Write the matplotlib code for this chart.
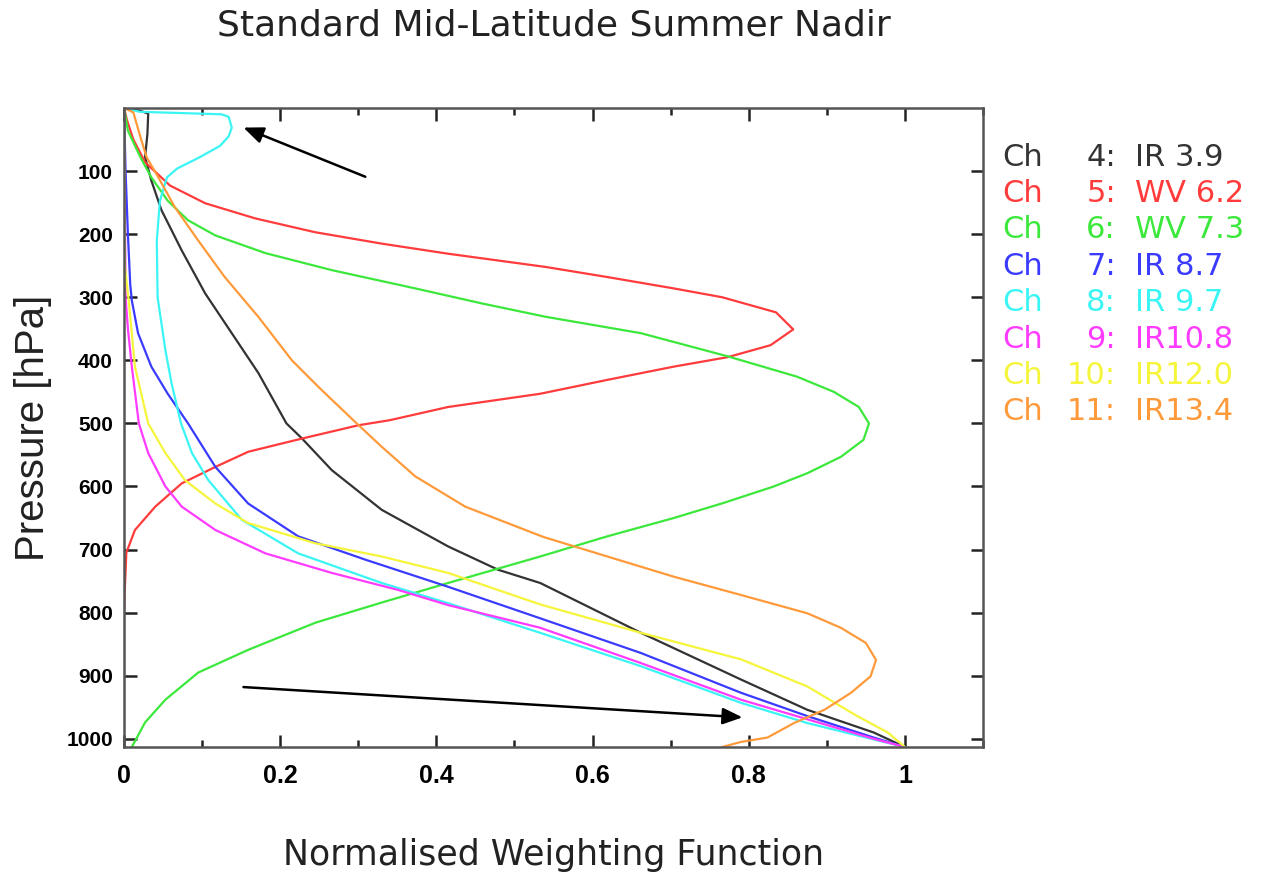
import matplotlib
matplotlib.use("Agg")
import matplotlib.pyplot as plt
from matplotlib.ticker import MultipleLocator

# ---- data (pressure in hPa, normalised weighting function) ----
p_ch4 = [0, 4, 9, 41, 78, 115, 162, 226, 294, 357, 420, 500, 524, 574, 637, 695, 732, 753, 832, 906, 954, 990, 1013]
w_ch4 = [0, 0.020, 0.031, 0.030, 0.027, 0.035, 0.048, 0.074, 0.104, 0.138, 0.172, 0.208, 0.228, 0.266, 0.330, 0.415, 0.479, 0.533, 0.662, 0.790, 0.875, 0.960, 1.0]

p_ch5 = [0, 20, 50, 86, 123, 151, 175, 197, 215, 231, 252, 268, 286, 300, 324, 351, 376, 395, 410, 431, 453, 474, 495, 503, 524, 545, 569, 595, 632, 669, 705, 764, 800, 1013]
w_ch5 = [0, 0.004, 0.012, 0.027, 0.059, 0.104, 0.168, 0.245, 0.330, 0.415, 0.540, 0.619, 0.704, 0.766, 0.835, 0.857, 0.828, 0.773, 0.704, 0.619, 0.533, 0.415, 0.340, 0.300, 0.228, 0.159, 0.117, 0.074, 0.040, 0.014, 0.003, 0.001, 0, 0]

p_ch6 = [0, 36, 78, 110, 147, 178, 202, 230, 257, 286, 310, 331, 357, 394, 426, 450, 474, 500, 526, 553, 579, 600, 626, 650, 679, 711, 753, 784, 816, 859, 895, 938, 974, 1013]
w_ch6 = [0, 0.005, 0.021, 0.035, 0.056, 0.082, 0.117, 0.181, 0.266, 0.373, 0.459, 0.540, 0.662, 0.774, 0.862, 0.909, 0.941, 0.954, 0.947, 0.918, 0.875, 0.832, 0.768, 0.704, 0.619, 0.533, 0.415, 0.330, 0.245, 0.159, 0.095, 0.053, 0.027, 0.010]

p_ch7 = [0, 100, 200, 280, 305, 357, 410, 453, 500, 569, 627, 679, 716, 759, 809, 864, 927, 964, 998, 1013]
w_ch7 = [0, 0.002, 0.005, 0.008, 0.010, 0.018, 0.035, 0.056, 0.082, 0.117, 0.159, 0.223, 0.309, 0.415, 0.533, 0.662, 0.790, 0.875, 0.960, 1.0]

p_ch8 = [0, 6, 10, 14, 31, 45, 60, 78, 96, 110, 147, 210, 300, 384, 437, 500, 547, 590, 653, 706, 753, 785, 832, 885, 943, 975, 1001, 1013]
w_ch8 = [0, 0.020, 0.125, 0.134, 0.138, 0.134, 0.123, 0.097, 0.068, 0.055, 0.046, 0.042, 0.043, 0.053, 0.061, 0.073, 0.087, 0.108, 0.151, 0.223, 0.330, 0.415, 0.533, 0.662, 0.790, 0.875, 0.960, 1.0]

p_ch9 = [0, 300, 350, 410, 500, 547, 600, 632, 669, 706, 737, 764, 788, 824, 880, 938, 969, 1000, 1013]
w_ch9 = [0, 0.002, 0.005, 0.010, 0.019, 0.031, 0.053, 0.074, 0.117, 0.181, 0.266, 0.351, 0.415, 0.533, 0.662, 0.790, 0.875, 0.960, 1.0]

p_ch10 = [0, 250, 305, 410, 500, 547, 590, 627, 658, 690, 711, 737, 787, 832, 874, 917, 964, 990, 1013]
w_ch10 = [0, 0.001, 0.006, 0.014, 0.031, 0.053, 0.078, 0.117, 0.159, 0.245, 0.330, 0.415, 0.533, 0.662, 0.790, 0.875, 0.939, 0.978, 1.0]

p_ch11 = [0, 7, 46, 78, 110, 157, 210, 268, 331, 400, 447, 500, 537, 584, 632, 680, 711, 743, 772, 801, 824, 848, 875, 901, 927, 954, 975, 998, 1005, 1013]
w_ch11 = [0, 0.012, 0.021, 0.029, 0.044, 0.065, 0.095, 0.129, 0.172, 0.215, 0.253, 0.298, 0.330, 0.373, 0.437, 0.537, 0.619, 0.704, 0.790, 0.875, 0.918, 0.950, 0.963, 0.956, 0.931, 0.897, 0.858, 0.824, 0.790, 0.766]

ch_numbers = ["4", "5", "6", "7", "8", "9", "10", "11"]
ch_names = ["IR 3.9", "WV 6.2", "WV 7.3", "IR 8.7", "IR 9.7", "IR10.8", "IR12.0", "IR13.4"]
ch_colors = ["#333333", "#ff3b3b", "#3be83b", "#3b3bff", "#3bf5f5", "#ff3bff", "#f5f53b", "#ff9a3b"]

pressures = [p_ch4, p_ch5, p_ch6, p_ch7, p_ch8, p_ch9, p_ch10, p_ch11]
weights = [w_ch4, w_ch5, w_ch6, w_ch7, w_ch8, w_ch9, w_ch10, w_ch11]

# ---- figure ----
fig = plt.figure(figsize=(12.61, 8.74), dpi=100)
ax = fig.add_axes([124 / 1261, 1 - 747 / 874, (983 - 124) / 1261, (747 - 108) / 874])

for p, w, c in zip(pressures, weights, ch_colors):
    ax.plot(w, p, color=c, lw=1.6, solid_joinstyle="round")

ax.set_xlim(0, 1.1)
ax.set_ylim(1013, 0)
ax.set_xticks([0, 0.2, 0.4, 0.6, 0.8, 1.0])
ax.set_xticklabels(["0", "0.2", "0.4", "0.6", "0.8", "1"])
ax.xaxis.set_minor_locator(MultipleLocator(0.1))
ax.set_yticks(list(range(100, 1001, 100)))
ax.tick_params(axis="both", which="major", direction="in", length=9, width=1.8,
               top=True, right=True, color="#222222")
ax.tick_params(axis="x", which="major", labelsize=18, pad=12)
ax.tick_params(axis="y", which="major", labelsize=15, pad=8)
ax.tick_params(axis="x", which="minor", direction="in", length=5, width=1.8,
               top=True, bottom=True, color="#222222")
for lab in ax.get_xticklabels() + ax.get_yticklabels():
    lab.set_fontweight("bold")
    lab.set_family("Liberation Sans")
for s in ax.spines.values():
    s.set_linewidth(1.8)
    s.set_color("#555555")

fig.text(554 / 1261, 1 - 25 / 874, "Standard Mid-Latitude Summer Nadir",
         ha="center", va="center", fontsize=26, family="DejaVu Sans", color="#222222")
fig.text(554 / 1261, 1 - 855 / 874, "Normalised Weighting Function",
         ha="center", va="center", fontsize=25, family="DejaVu Sans", color="#222222")
fig.text(33 / 1261, 1 - 428 / 874, "Pressure [hPa]", rotation=90,
         ha="center", va="center", fontsize=29, family="Liberation Sans", color="#222222")

# legend text
y0 = 157
dy = 36.4
for i, (n, name, c) in enumerate(zip(ch_numbers, ch_names, ch_colors)):
    yy = 1 - (y0 + i * dy) / 874
    fig.text(1002 / 1261, yy, "Ch", ha="left", va="center", fontsize=22,
             family="DejaVu Sans", color=c)
    fig.text(1116 / 1261, yy, n + ":", ha="right", va="center", fontsize=22,
             family="DejaVu Sans", color=c)
    fig.text(1135 / 1261, yy, name, ha="left", va="center", fontsize=22,
             family="DejaVu Sans", color=c)

# arrows
ax.annotate("", xy=(0.153, 31), xytext=(0.309, 109),
            arrowprops=dict(arrowstyle="-|>,head_length=1.2,head_width=0.5",
                            color="black", lw=1.8, shrinkA=0, shrinkB=0))
ax.annotate("", xy=(0.792, 966), xytext=(0.153, 918),
            arrowprops=dict(arrowstyle="-|>,head_length=1.2,head_width=0.5",
                            color="black", lw=1.8, shrinkA=0, shrinkB=0))

fig.savefig("out.png", dpi=100)
